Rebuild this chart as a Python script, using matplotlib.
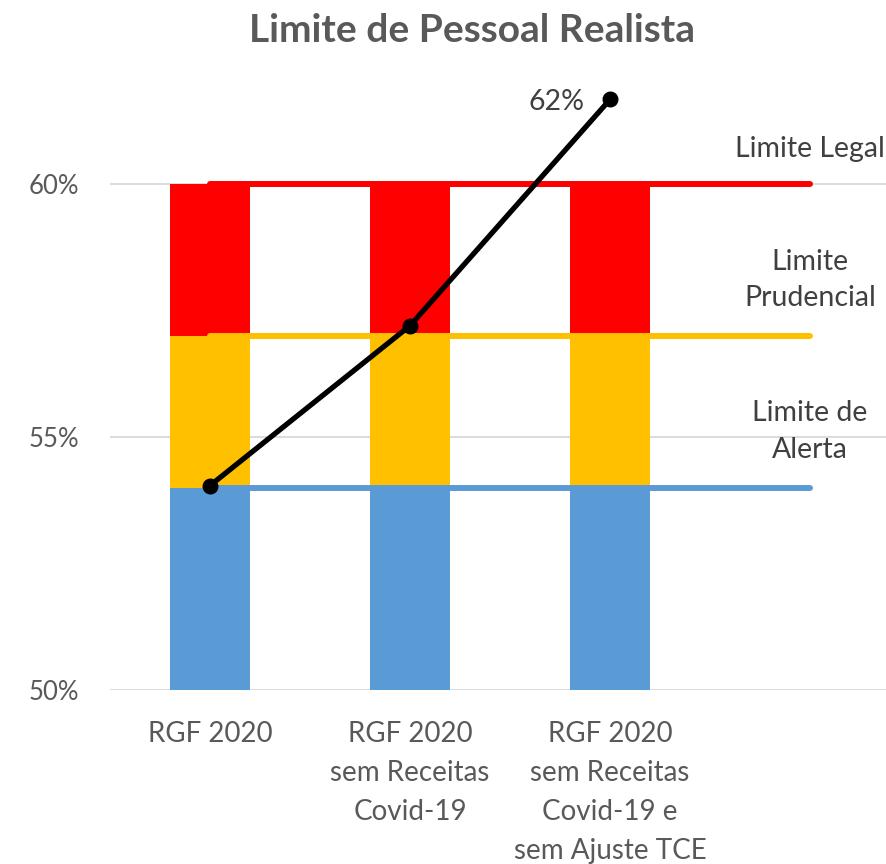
import matplotlib
matplotlib.use("Agg")
import matplotlib.pyplot as plt

plt.rcParams['font.family'] = ['Lato', 'DejaVu Sans']

categories = ["RGF 2020", "RGF 2020\nsem Receitas\nCovid-19",
              "RGF 2020\nsem Receitas\nCovid-19 e\nsem Ajuste TCE", ""]
# stacked band tops (percent)
alerta = [54.0, 54.0, 54.0]
prudencial = [57.0, 57.0, 57.0]
legal = [60.0, 60.0, 60.0]
# reference limit lines across all four category slots
linha_alerta = [54.0, 54.0, 54.0, 54.0]
linha_prudencial = [57.0, 57.0, 57.0, 57.0]
linha_legal = [60.0, 60.0, 60.0, 60.0]
limit_names = ["Limite Legal", "Limite\nPrudencial", "Limite de\nAlerta"]
# personnel spending ratio
realista = [54.04, 57.2, 61.67]
yticks = [50, 55, 60]

BLUE = "#5B9BD5"
YELLOW = "#FFC000"
RED = "#FF0000"
TICK = "#595959"
LABEL = "#404040"

fig = plt.figure(figsize=(8.87, 8.64), dpi=100)
ax = fig.add_axes([110 / 887, 174 / 864, 777 / 887, 607.2 / 864])

x = list(range(len(alerta)))
base = 50.0
ax.bar(x, [a - base for a in alerta], bottom=base, width=0.4, color=BLUE, zorder=2)
ax.bar(x, [p - a for p, a in zip(prudencial, alerta)], bottom=alerta, width=0.4,
       color=YELLOW, zorder=2)
ax.bar(x, [l - p for l, p in zip(legal, prudencial)], bottom=prudencial, width=0.4,
       color=RED, zorder=2)

xl = list(range(len(linha_legal)))
for vals, col in [(linha_legal, RED), (linha_prudencial, YELLOW), (linha_alerta, BLUE)]:
    ax.plot(xl, vals, color=col, lw=4.3, solid_capstyle="round", zorder=3)

offsets = [35, 56, 56]
for name, vals, off in zip(limit_names, [linha_legal, linha_prudencial, linha_alerta], offsets):
    ax.annotate(name, (xl[-1], vals[-1]), xytext=(0, off * 0.72), textcoords="offset points",
                ha="center", va="center", fontsize=20.5, color=LABEL, linespacing=1.5)

ax.plot(x, realista, color="black", lw=3.8, marker="o", ms=10.5, zorder=5,
        solid_capstyle="round")
ax.annotate(f"{realista[-1]:.0f}%", (x[-1], realista[-1]), xytext=(-18, -2),
            textcoords="offset points", ha="right", va="center", fontsize=20.5, color=LABEL)

ax.set_xlim(-0.5, 3.385)
ax.set_ylim(50, 62)
ax.set_yticks(yticks)
ax.set_yticklabels([f"{v}%" for v in yticks])
ax.set_xticks(range(len(categories)))
ax.set_xticklabels(categories, linespacing=1.62)
ax.tick_params(axis="both", length=0, labelcolor=TICK)
ax.tick_params(axis="y", pad=22, labelsize=18.5)
ax.tick_params(axis="x", pad=22, labelsize=20)
for lab in ax.get_xticklabels():
    lab.set_verticalalignment("top")
ax.yaxis.grid(True, color="#D9D9D9", lw=1.3, zorder=0)
ax.set_axisbelow(True)
for s in ax.spines.values():
    s.set_visible(False)

fig.text(472 / 887, 1 - 31 / 864, "Limite de Pessoal Realista", ha="center", va="center",
         fontsize=28, fontweight="bold", color=TICK)

fig.savefig("out.png", dpi=100)
